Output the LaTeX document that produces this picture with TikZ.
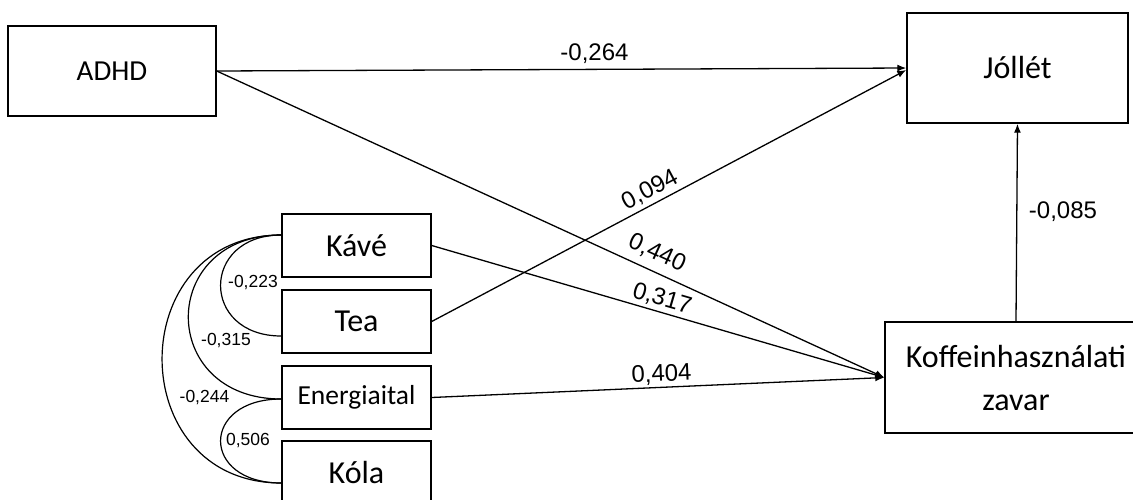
\documentclass[tikz,border=0pt]{standalone}
\usepackage{fontspec}
\newfontfamily\boxfont{Carlito}
\newfontfamily\numfont{Liberation Sans}
\usetikzlibrary{arrows.meta}
\begin{document}
\begin{tikzpicture}[x=1pt,y=-1pt,
  varbox/.style={draw,line width=1.4pt,inner sep=0pt,anchor=center,align=center,font=\boxfont\fontsize{32}{43}\selectfont},
  conn/.style={line width=1.3pt,-{Latex[length=9pt,width=7pt]}},
  cov/.style={line width=1.2pt},
  plabel/.style={font=\numfont\fontsize{24}{28}\selectfont,inner sep=0pt},
  clabel/.style={font=\numfont\fontsize{17.5}{20}\selectfont,inner sep=0pt}]
\clip (0,0) rectangle (1133,499);
\fill[white] (0,0) rectangle (1133,499);
\node[varbox,minimum width=208pt,minimum height=90pt,font=\boxfont\fontsize{29}{34}\selectfont] (adhd) at (112,71) {ADHD};
\node[varbox,minimum width=221pt,minimum height=110pt] (jol) at (1017.5,68) {Jóllét};
\node[varbox,minimum width=262pt,minimum height=111pt] (koff) at (1016,377.5) {Koffeinhasználati\\zavar};
\node[varbox,minimum width=149pt,minimum height=63pt] (kave) at (356.5,245.5) {Kávé};
\node[varbox,minimum width=149pt,minimum height=63pt] (tea) at (356.5,321.5) {Tea};
\node[varbox,minimum width=149pt,minimum height=63pt,font=\boxfont\fontsize{27.5}{32}\selectfont] (ener) at (356.5,397.5) {Energiaital};
\node[varbox,minimum width=149pt,minimum height=63pt] (kola) at (356.5,472.5) {Kóla};

\coordinate (kA) at ([yshift=10.5pt]kave.west);
\coordinate (tA) at ([yshift=-14.5pt]tea.west);
\coordinate (eA) at ([yshift=-1.5pt]ener.west);
\coordinate (oA) at ([yshift=-10.5pt]kola.west);
\coordinate (jT) at ([yshift=-2pt]jol.west);

\draw[conn] (adhd.east) -- (jol.west);
\draw[conn] (adhd.east) -- (koff.west);
\draw[conn] (tea.east) -- (jT);
\draw[conn] (kave.east) -- (koff.west);
\draw[conn] (ener.east) -- (koff.west);
\draw[conn] (koff.north) -- (jol.south);

\draw[cov] (kA) .. controls +(-81,0) and +(-81,0) .. (tA);
\draw[cov] (kA) .. controls +(-124,0) and +(-124,0) .. (eA);
\draw[cov] (kA) .. controls +(-159,0) and +(-159,0) .. (oA);
\draw[cov] (eA) .. controls +(-81,0) and +(-81,0) .. (oA);

\node[plabel] (l1) at (594.5,54) {-0,264};
\node[plabel,rotate=28] (l2) at (650,190) {0,094};
\node[plabel,rotate=-24.6] (l3) at (657,253) {0,440};
\node[plabel,rotate=-16.2] (l4) at (662,299) {0,317};
\node[plabel,rotate=2.4] (l5) at (661.5,374.5) {0,404};
\node[plabel] (l6) at (1063,211.5) {-0,085};
\node[clabel] (c1) at (253,283) {-0,223};
\node[clabel] (c2) at (226,341) {-0,315};
\node[clabel] (c3) at (204.5,398) {-0,244};
\node[clabel] (c4) at (248,441) {0,506};
\end{tikzpicture}
\end{document}
